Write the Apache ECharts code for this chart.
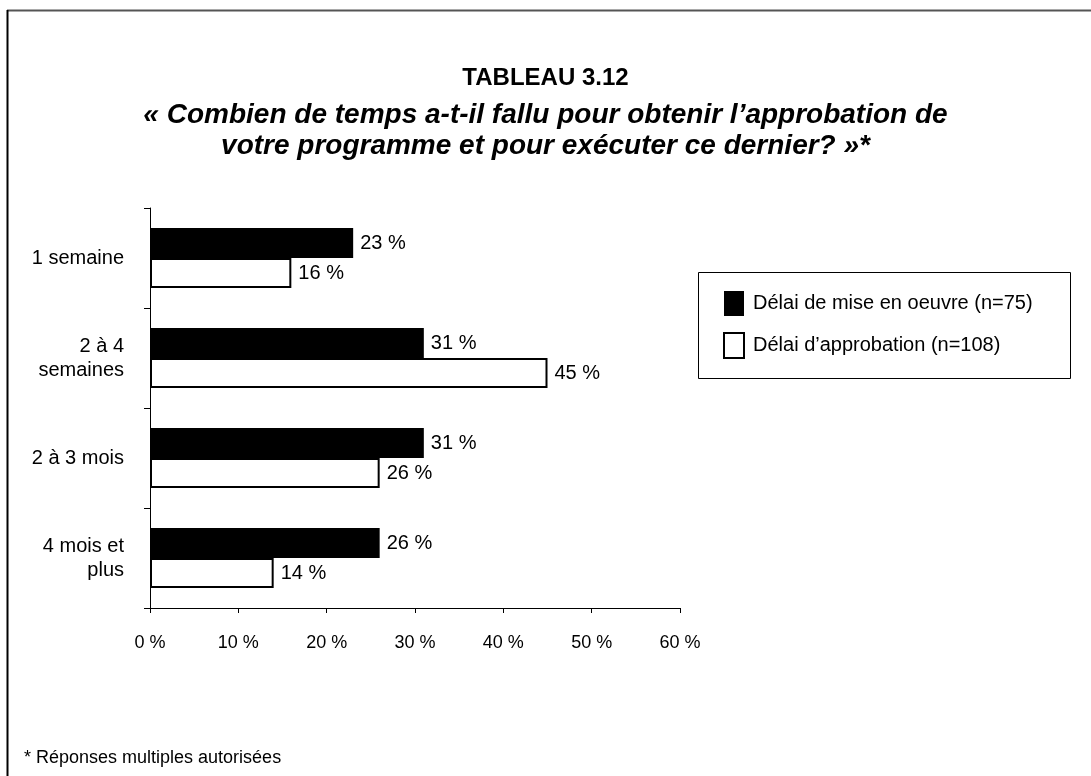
<!DOCTYPE html>
<html>
<head>
<meta charset="utf-8">
<script src="https://cdn.jsdelivr.net/npm/echarts@6/dist/echarts.min.js"></script>
<style>
  html, body { margin: 0; padding: 0; background: #fff; }
  #chart { width: 1091px; height: 776px; }
</style>
</head>
<body>
<div id="chart"></div>
<script>
// données du tableau 3.12
const categories = ['1 semaine', '2 à 4\nsemaines', '2 à 3 mois', '4 mois et\nplus']
const miseEnOeuvre = [23, 31, 31, 26]     // Délai de mise en oeuvre (n=75)
const approbation = [16, 45, 26, 14]      // Délai d'approbation (n=108)
const seriesNames = ['Délai de mise en oeuvre (n=75)', 'Délai d’approbation (n=108)']

const FONT = 'Liberation Sans, Arial, sans-serif'

const chart = echarts.init(document.getElementById('chart'), null, { renderer: 'canvas' })

const labelStyle = {
  show: true,
  position: 'right',
  distance: 7,
  formatter: '{c} %',
  color: '#000',
  fontFamily: FONT,
  fontSize: 20
}

chart.setOption({
  backgroundColor: '#fff',
  animation: false,
  title: {
    text: 'TABLEAU 3.12',
    subtext: '« Combien de temps a-t-il fallu pour obtenir l’approbation de\nvotre programme et pour exécuter ce dernier? »*',
    left: 'center',
    top: 61,
    itemGap: 10,
    textStyle: { fontFamily: FONT, fontSize: 24, fontWeight: 'bold', color: '#000' },
    subtextStyle: {
      fontFamily: FONT, fontSize: 28, fontWeight: 'bold', fontStyle: 'italic',
      color: '#000', lineHeight: 31, align: 'center'
    }
  },
  legend: {
    orient: 'vertical',
    left: 718,
    top: 286,
    itemWidth: 20,
    itemHeight: 25,
    itemGap: 16,
    icon: 'rect',
    textStyle: { fontFamily: FONT, fontSize: 20, color: '#000', padding: [0, 0, 0, 4] },
    data: [
      { name: seriesNames[0], itemStyle: { color: '#000', borderWidth: 0 } },
      { name: seriesNames[1], itemStyle: { color: '#fff', borderColor: '#000', borderWidth: 2 } }
    ]
  },
  grid: { left: 150, top: 208, width: 530, height: 400, containLabel: false },
  xAxis: {
    type: 'value',
    min: 0,
    max: 60,
    interval: 10,
    axisLine: { show: true, lineStyle: { color: '#000', width: 1 } },
    axisTick: { show: true, length: 5, lineStyle: { color: '#000' } },
    splitLine: { show: false },
    axisLabel: { formatter: '{value} %', margin: 26, color: '#000', fontFamily: FONT, fontSize: 18 }
  },
  yAxis: {
    type: 'category',
    data: categories,
    inverse: true,
    axisLine: { show: true, lineStyle: { color: '#000', width: 1 } },
    axisTick: { show: true, length: 6, lineStyle: { color: '#000' } },
    axisLabel: { margin: 26, color: '#000', fontFamily: FONT, fontSize: 20, lineHeight: 24, align: 'right' }
  },
  series: [
    {
      name: seriesNames[0],
      type: 'bar',
      data: miseEnOeuvre,
      barGap: '0%',
      barCategoryGap: '40%',
      itemStyle: { color: '#000' },
      label: labelStyle
    },
    {
      name: seriesNames[1],
      type: 'bar',
      data: approbation,
      itemStyle: { color: '#fff', borderColor: '#000', borderWidth: 2 },
      label: labelStyle
    }
  ],
  graphic: [
    // cadre extérieur (haut et gauche)
    { type: 'line', shape: { x1: 7, y1: 10.5, x2: 1091, y2: 10.5 }, style: { stroke: '#555', lineWidth: 2 }, silent: true },
    { type: 'line', shape: { x1: 7.5, y1: 10, x2: 7.5, y2: 776 }, style: { stroke: '#000', lineWidth: 2 }, silent: true },
    // cadre de la légende
    { type: 'rect', shape: { x: 698.5, y: 272.5, width: 372, height: 106 }, style: { fill: null, stroke: '#000', lineWidth: 1 }, silent: true, z: -1 },
    // note
    { type: 'text', left: 24, top: 749, style: { text: '* Réponses multiples autorisées', font: '18px ' + FONT, fill: '#000' } }
  ]
})
</script>
</body>
</html>
